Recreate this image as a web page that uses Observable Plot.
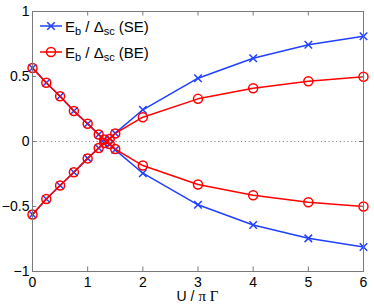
<!DOCTYPE html>
<html><head><meta charset="utf-8">
<script src="https://cdn.jsdelivr.net/npm/d3@7"></script>
<script src="https://cdn.jsdelivr.net/npm/@observablehq/plot@0.6"></script>
<style>
body{margin:0;background:#fff;}
#wrap{position:relative;width:374px;height:308px;}
.overlay{position:absolute;left:0;top:0;pointer-events:none;}
</style></head><body><div id="wrap"></div>
<script>
// Data
const U       = [0, 0.25, 0.5, 0.75, 1, 1.2, 1.3, 1.4, 1.5, 2, 3, 4, 5, 6];
const seUpper = [0.565, 0.452, 0.348, 0.234, 0.136, 0.054, 0.015, -0.022, -0.064, -0.244, -0.487, -0.642, -0.745, -0.812];
const seLower = [-0.562, -0.443, -0.338, -0.236, -0.130, -0.050, -0.012, 0.022, 0.064, 0.244, 0.487, 0.641, 0.744, 0.810];
const beUpper = [0.565, 0.452, 0.348, 0.234, 0.136, 0.054, 0.015, -0.020, -0.058, -0.185, -0.331, -0.413, -0.467, -0.500];
const beLower = [-0.562, -0.443, -0.338, -0.236, -0.130, -0.050, -0.012, 0.020, 0.062, 0.187, 0.328, 0.410, 0.464, 0.498];
const xTicks = [0, 1, 2, 3, 4, 5, 6];
const yTicks = [-1, -0.5, 0, 0.5, 1];
const seriesNames = ["SE", "BE"];
const seriesColors = ["#2040ff", "#ff0000"];

function rows(name, branch, vals) {
  return U.map((u, i) => ({series: name, branch, U: u, E: vals[i]}));
}
const se = [...rows("SE", "upper", seUpper), ...rows("SE", "lower", seLower)];
const be = [...rows("BE", "upper", beUpper), ...rows("BE", "lower", beLower)];

const fmt = d => d < 0 ? "\u2212" + String(-d) : String(d);
const axisColor = "#7a7a7a";
const yTickLen = 0.035, xTickLen = 0.07;
const sans = "'Liberation Sans', Arial, sans-serif";
const serif = "'Liberation Serif', 'Times New Roman', serif";

const plot = Plot.plot({
  width: 374, height: 308,
  marginLeft: 32, marginRight: 11, marginTop: 11, marginBottom: 37,
  style: {fontFamily: sans, fontSize: "14px", color: "#000", background: "#fff"},
  x: {domain: [0, 6]},
  y: {domain: [-1, 1]},
  marks: [
    Plot.ruleY([0], {stroke: "#8a8a8a", strokeDasharray: "1.2,2.6"}),
    Plot.line(se, {x: "U", y: "E", z: "branch", stroke: seriesColors[0], strokeWidth: 1.5}),
    Plot.dot(se, {x: "U", y: "E", symbol: "times", r: 3.5, stroke: seriesColors[0], strokeWidth: 1.5}),
    Plot.line(be, {x: "U", y: "E", z: "branch", stroke: seriesColors[1], strokeWidth: 1.5}),
    Plot.dot(be, {x: "U", y: "E", r: 4.5, stroke: seriesColors[1], fill: "none", strokeWidth: 1.5}),
    Plot.frame({stroke: axisColor}),
    Plot.ruleX(xTicks, {x: d => d, y1: -1, y2: -1 + yTickLen, stroke: axisColor}),
    Plot.ruleX(xTicks, {x: d => d, y1: 1, y2: 1 - yTickLen, stroke: axisColor}),
    Plot.ruleY(yTicks, {y: d => d, x1: 0, x2: xTickLen, stroke: axisColor}),
    Plot.ruleY(yTicks, {y: d => d, x1: 6, x2: 6 - xTickLen, stroke: axisColor}),
    Plot.axisX(xTicks, {tickSize: 0, tickPadding: 6, tickFormat: fmt, label: null}),
    Plot.axisY(yTicks, {tickSize: 0, tickPadding: 3, tickFormat: fmt, label: null})
  ]
});

const wrap = document.getElementById("wrap");
wrap.appendChild(plot);

const xs = plot.scale("x");
const ov = d3.select(wrap).append("svg").attr("class", "overlay")
  .attr("width", 374).attr("height", 308)
  .style("font-family", sans);

// x-axis label: "U / π Γ" with Greek letters in a serif face
const xl = ov.append("text")
  .attr("x", (xs.apply(xs.domain[0]) + xs.apply(xs.domain[1])) / 2)
  .attr("y", 301).attr("text-anchor", "middle").attr("font-size", 14).attr("fill", "#000");
xl.append("tspan").text("U / ");
xl.append("tspan").attr("font-family", serif).attr("font-size", 15).text("π Γ");

// Legend (inside the plot area, like the reference)
const rowY = [26, 52];
seriesNames.forEach((name, i) => {
  const g = ov.append("g").attr("transform", `translate(0,${rowY[i]})`);
  g.append("line").attr("x1", 40).attr("x2", 62).attr("y1", 0).attr("y2", 0)
    .attr("stroke", seriesColors[i]).attr("stroke-width", 1.5);
  if (i === 0) {
    g.append("path").attr("d", d3.symbol(d3.symbolTimes, Math.PI * 3.5 * 3.5)())
      .attr("transform", "translate(51,0)").attr("stroke", seriesColors[i]).attr("stroke-width", 1.5).attr("fill", "none");
  } else {
    g.append("circle").attr("cx", 51).attr("cy", 0).attr("r", 4.5)
      .attr("stroke", seriesColors[i]).attr("stroke-width", 1.5).attr("fill", "none");
  }
  const t = g.append("text").attr("x", 65).attr("y", 5.5).attr("font-size", 15).attr("fill", "#000");
  t.append("tspan").text("E");
  t.append("tspan").attr("font-size", 11).attr("dy", 3).text("b");
  t.append("tspan").attr("dy", -3).text(" / Δ");
  t.append("tspan").attr("font-size", 11).attr("dy", 3).text("sc");
  t.append("tspan").attr("dy", -3).text(` (${name})`);
});
</script></body></html>
